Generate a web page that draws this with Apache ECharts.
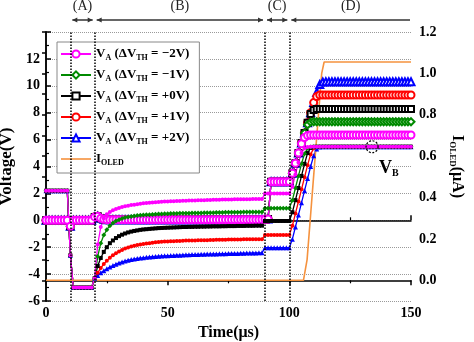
<!DOCTYPE html>
<html><head><meta charset="utf-8">
<script src="https://cdn.jsdelivr.net/npm/echarts@6/dist/echarts.min.js"></script>
<style>html,body{margin:0;padding:0;background:#fff}#c{width:474px;height:342px}</style>
</head><body><div id="c"></div>
<script>
// ---------------- DATA ----------------
const time = [0,1.25,2.5,3.75,5,6.25,7.5,8.75,10,11.25,
12.5,13.75,15,16.25,17.5,18.75,20,21.25,22.5,23.75,
25,26.25,27.5,28.75,30,31.25,32.5,33.75,35,36.25,
37.5,38.75,40,41.25,42.5,43.75,45,46.25,47.5,48.75,
50,51.25,52.5,53.75,55,56.25,57.5,58.75,60,61.25,
62.5,63.75,65,66.25,67.5,68.75,70,71.25,72.5,73.75,
75,76.25,77.5,78.75,80,81.25,82.5,83.75,85,86.25,
87.5,88.75,90,91.25,92.5,93.75,95,96.25,97.5,98.75,
100,101.25,102.5,103.75,105,106.25,107.5,108.75,110,111.25,
112.5,113.75,115,116.25,117.5,118.75,120,121.25,122.5,123.75,
125,126.25,127.5,128.75,130,131.25,132.5,133.75,135,136.25,
137.5,138.75,140,141.25,142.5,143.75,145,146.25,147.5,148.75,
150];

// V_A (hollow markers): phases A-C are shared by all dVth values
const vaShared = [0,0,0,0,0,0,0,0,-0.45,0,
0,0,0,0,0,0,0.25,0.3,0.15,0.08,
0.05,0.05,0.05,0.05,0.05,0.05,0.05,0.05,0.05,0.05,
0.05,0.05,0.05,0.05,0.05,0.05,0.05,0.05,0.05,0.05,
0.05,0.05,0.05,0.05,0.05,0.05,0.05,0.05,0.05,0.05,
0.05,0.05,0.05,0.05,0.05,0.05,0.05,0.05,0.05,0.05,
0.05,0.05,0.05,0.05,0.05,0.05,0.05,0.05,0.05,0.05,
0.05,0.06,0.08,0.1,2.87,2.87,2.87,2.87,2.87,2.87];
const vaM2D = [2.87,3.5,4.25,5.0,5.7,6.15,6.3,6.34,6.34,6.34,
6.34,6.34,6.34,6.34,6.34,6.34,6.34,6.34,6.34,6.34,
6.34,6.34,6.34,6.34,6.34,6.34,6.34,6.34,6.34,6.34,
6.34,6.34,6.34,6.34,6.34,6.34,6.34,6.34,6.34,6.34,
6.34];
const vaM1D = [2.87,3.5,4.25,5.0,5.75,6.5,7.1,7.3,7.33,7.33,
7.33,7.33,7.33,7.33,7.33,7.33,7.33,7.33,7.33,7.33,
7.33,7.33,7.33,7.33,7.33,7.33,7.33,7.33,7.33,7.33,
7.33,7.33,7.33,7.33,7.33,7.33,7.33,7.33,7.33,7.33,
7.33];
const vaP0D = [2.87,3.5,4.25,5.0,5.75,6.5,7.25,7.9,8.2,8.28,
8.28,8.28,8.28,8.28,8.28,8.28,8.28,8.28,8.28,8.28,
8.28,8.28,8.28,8.28,8.28,8.28,8.28,8.28,8.28,8.28,
8.28,8.28,8.28,8.28,8.28,8.28,8.28,8.28,8.28,8.28,
8.28];
const vaP1D = [2.87,3.5,4.25,5.0,5.75,6.5,7.25,8.0,8.75,9.2,
9.32,9.32,9.32,9.32,9.32,9.32,9.32,9.32,9.32,9.32,
9.32,9.32,9.32,9.32,9.32,9.32,9.32,9.32,9.32,9.32,
9.32,9.32,9.32,9.32,9.32,9.32,9.32,9.32,9.32,9.32,
9.32];
const vaP2D = [2.87,3.5,4.25,5.0,5.75,6.5,7.25,8.0,8.75,9.5,
10.1,10.28,10.3,10.3,10.3,10.3,10.3,10.3,10.3,10.3,
10.3,10.3,10.3,10.3,10.3,10.3,10.3,10.3,10.3,10.3,
10.3,10.3,10.3,10.3,10.3,10.3,10.3,10.3,10.3,10.3,
10.3];

// V_B (filled markers)
const vbStart = [2.2,2.2,2.2,2.2,2.2,2.2,2.2,2.2,-2.6,-5,
-5,-5,-5,-5,-5,-5,-4.3];
const vbTail = [5.47,5.47,5.47,5.47,5.47,5.47,5.47,5.47,5.47,5.47,
5.47,5.47,5.47,5.47,5.47,5.47,5.47,5.47,5.47,5.47,
5.47,5.47,5.47,5.47,5.47,5.47,5.47,5.47,5.47,5.47];
const vbM2 = [-1.8,-0.5,0.15,
0.45,0.62,0.74,0.84,0.92,0.99,1.04,1.09,1.13,1.16,
1.2,1.23,1.26,1.28,1.3,1.32,1.34,1.36,1.37,1.39,
1.4,1.41,1.42,1.43,1.44,1.45,1.46,1.47,1.48,1.48,
1.49,1.5,1.5,1.51,1.51,1.52,1.53,1.53,1.54,1.54,
1.55,1.55,1.56,1.56,1.56,1.57,1.57,1.57,1.58,1.58,
1.58,1.58,2.0,2.0,2.0,2.0,2.0,2.0,2.0,2.0,
2.0,2.5,3.4,4.3,5.0,5.35,5.45,5.47,5.47,5.47,
5.47];
const vbM1 = [-2.7,-1.7,-1.1,
-0.7,-0.4,-0.2,-0.05,0.05,0.13,0.2,0.25,0.29,0.32,
0.35,0.37,0.39,0.41,0.42,0.44,0.45,0.46,0.47,0.48,
0.49,0.5,0.5,0.51,0.52,0.52,0.53,0.53,0.54,0.54,
0.55,0.55,0.56,0.56,0.57,0.57,0.58,0.58,0.58,0.59,
0.59,0.6,0.6,0.6,0.6,0.61,0.61,0.61,0.62,0.62,
0.62,0.62,0.89,0.89,0.89,0.89,0.89,0.89,0.89,0.89,
0.89,1.5,2.4,3.3,4.2,4.95,5.35,5.45,5.47,5.47,
5.47];
const vbP0 = [-3.4,-2.8,-2.35,
-2.0,-1.7,-1.5,-1.32,-1.18,-1.07,-0.98,-0.9,-0.84,-0.79,
-0.75,-0.71,-0.68,-0.66,-0.64,-0.62,-0.6,-0.58,-0.57,-0.56,
-0.55,-0.54,-0.53,-0.52,-0.51,-0.5,-0.5,-0.49,-0.49,-0.48,
-0.48,-0.47,-0.47,-0.46,-0.46,-0.45,-0.45,-0.45,-0.44,-0.44,
-0.43,-0.43,-0.43,-0.42,-0.42,-0.42,-0.41,-0.41,-0.41,-0.4,
-0.4,-0.4,-0.05,-0.05,-0.05,-0.05,-0.05,-0.05,-0.05,-0.05,
-0.05,0.6,1.5,2.4,3.3,4.2,5.0,5.38,5.46,5.47,
5.47];
const vbP1 = [-3.9,-3.55,-3.25,
-3.0,-2.78,-2.6,-2.45,-2.32,-2.2,-2.1,-2.02,-1.95,-1.89,
-1.84,-1.8,-1.76,-1.73,-1.7,-1.67,-1.64,-1.62,-1.6,-1.58,
-1.57,-1.56,-1.55,-1.54,-1.53,-1.52,-1.51,-1.51,-1.5,-1.5,
-1.49,-1.49,-1.48,-1.48,-1.47,-1.46,-1.45,-1.45,-1.44,-1.44,
-1.43,-1.43,-1.42,-1.42,-1.42,-1.41,-1.41,-1.41,-1.4,-1.4,
-1.4,-1.4,-1.1,-1.1,-1.1,-1.1,-1.1,-1.1,-1.1,-1.1,
-1.1,-0.4,0.5,1.4,2.3,3.2,4.1,4.9,5.35,5.45,
5.47];
const vbP2 = [-4.1,-3.9,-3.75,
-3.6,-3.47,-3.36,-3.26,-3.17,-3.1,-3.03,-2.97,-2.92,-2.88,
-2.84,-2.81,-2.78,-2.75,-2.73,-2.71,-2.69,-2.67,-2.65,-2.64,
-2.63,-2.62,-2.61,-2.6,-2.59,-2.58,-2.57,-2.56,-2.55,-2.55,
-2.54,-2.53,-2.52,-2.51,-2.51,-2.5,-2.5,-2.49,-2.48,-2.48,
-2.47,-2.47,-2.46,-2.46,-2.45,-2.45,-2.44,-2.44,-2.43,-2.43,
-2.42,-2.42,-2.04,-2.04,-2.04,-2.04,-2.04,-2.04,-2.04,-2.04,
-2.04,-1.4,-0.5,0.4,1.3,2.2,3.1,4.0,4.8,5.3,
5.45];

// I_OLED (right axis, uA)
const ioledTime = [0,105.8,106.6,107.3,113.3,114.3,150];
const ioledValues = [0,0,0.005,0.1,1.0,1.055,1.055];

// phase markers
const phaseLabels = ['(A)','(B)','(C)','(D)'];
const phaseStart = [10,20,90,100];
const phaseEnd = [20,90,100,150];
const dividerTimes = [10,20,90,100];

const legendNames = ['VA-2','VA-1','VA0','VA+1','VA+2','IOLED'];
const legendTexts = {
  'VA-2':'V{s|A} (ΔV{s|TH} = −2V)',
  'VA-1':'V{s|A} (ΔV{s|TH} = −1V)',
  'VA0':'V{s|A} (ΔV{s|TH} = +0V)',
  'VA+1':'V{s|A} (ΔV{s|TH} = +1V)',
  'VA+2':'V{s|A} (ΔV{s|TH} = +2V)',
  'IOLED':'I{s|OLED}'
};

// ---------------- CHART ----------------
const FONT = '"Liberation Serif","DejaVu Serif",serif';
const C = {m:'#ff00ff', g:'#008a00', k:'#000000', r:'#ff0000', b:'#0000ff', o:'#f5923e'};
const toPairs = arr => time.map((t,i)=>[t, arr[i]]);

function lineSeries(name, color, symbol, size, arr, filled){
  return {
    name, type:'line', xAxisIndex:0, yAxisIndex:0,
    data: toPairs(arr), symbol, symbolSize:size, showSymbol:true,
    lineStyle:{color, width:1.3},
    itemStyle:{color, borderColor:color, borderWidth: filled?0:1.2},
    emphasis:{disabled:true}, silent:true, animation:false
  };
}

const series = [
  lineSeries('VA+2', C.b, 'emptyTriangle', 7, vaShared.concat(vaP2D)),
  lineSeries('VA+1', C.r, 'emptyCircle', 7, vaShared.concat(vaP1D)),
  lineSeries('VA0',  C.k, 'emptyRect', 6, vaShared.concat(vaP0D)),
  lineSeries('VA-1', C.g, 'emptyDiamond', 7, vaShared.concat(vaM1D)),
  lineSeries('VA-2', C.m, 'emptyCircle', 7, vaShared.concat(vaM2D)),
  lineSeries('VB+2', C.b, 'triangle', 5, vbStart.concat(vbP2, vbTail), true),
  lineSeries('VB+1', C.r, 'circle', 4, vbStart.concat(vbP1, vbTail), true),
  lineSeries('VB0',  C.k, 'rect', 4, vbStart.concat(vbP0, vbTail), true),
  lineSeries('VB-1', C.g, 'diamond', 5, vbStart.concat(vbM1, vbTail), true),
  lineSeries('VB-2', C.m, 'circle', 4, vbStart.concat(vbM2, vbTail), true),
  {
    name:'IOLED', type:'line', xAxisIndex:0, yAxisIndex:1,
    data: ioledTime.map((t,i)=>[t, ioledValues[i]]),
    symbol:'none', lineStyle:{color:C.o, width:1.6}, itemStyle:{color:C.o},
    silent:true, animation:false,
    markLine:{silent:true, symbol:['none','none'], label:{show:false}, animation:false,
      lineStyle:{color:'#000', type:'dotted', width:1.5},
      data: dividerTimes.map(x=>({xAxis:x}))}
  }
];

const axisLineStyle = {color:'#000', width:1.5};
const tickLabel = {fontFamily:FONT, fontWeight:'bold', fontSize:14, color:'#000'};
const richSub = {s:{fontSize:8, fontWeight:'bold', fontFamily:FONT, color:'#000', verticalAlign:'bottom', lineHeight:8}};

const chart = echarts.init(document.getElementById('c'), null, {renderer:'canvas'});
chart.setOption({
  animation:false,
  backgroundColor:'#fff',
  grid:{left:46, right:63, top:32, bottom:41, containLabel:false, outerBoundsMode:'none'},
  legend:{
    data: legendNames.map(n => n==='IOLED' ? {name:n, icon:'path://M0,0h30v1.6h-30z'} : n),
    orient:'vertical', left:57, top:42,
    itemWidth:30, itemHeight:9, itemGap:5,
    padding:[4,10,6,3],
    borderColor:'#888', borderWidth:1, backgroundColor:'#fff',
    selectedMode:false,
    formatter: n => legendTexts[n],
    textStyle:{fontFamily:FONT, fontWeight:'bold', fontSize:13, color:'#000', lineHeight:16, rich:richSub}
  },
  xAxis:[{
    type:'value', min:0, max:150, interval:50, position:'bottom',
    axisLine:{show:true, lineStyle:axisLineStyle},
    axisTick:{show:true, inside:true, length:5, lineStyle:{color:'#000', width:1.5}},
    minorTick:{show:true, splitNumber:2, length:3, lineStyle:{color:'#000', width:1.2}},
    axisLabel:Object.assign({margin:5}, tickLabel),
    splitLine:{show:false},
    name:'Time(μs)', nameLocation:'middle', nameGap:23,
    nameTextStyle:{fontFamily:FONT, fontWeight:'bold', fontSize:16, color:'#000'}
  },{
    type:'value', min:0, max:150, interval:50, position:'top',
    axisLine:{show:true, lineStyle:axisLineStyle},
    axisTick:{show:true, inside:true, length:5, lineStyle:{color:'#000', width:1.5}},
    minorTick:{show:true, splitNumber:2, length:3, lineStyle:{color:'#000', width:1.2}},
    axisLabel:{show:false}, splitLine:{show:false}
  }],
  yAxis:[{
    type:'value', min:-6, max:14, interval:2, position:'left',
    axisLine:{show:true, lineStyle:axisLineStyle},
    axisTick:{show:true, inside:true, length:5, lineStyle:{color:'#000', width:1.5}},
    minorTick:{show:true, splitNumber:2, length:3, lineStyle:{color:'#000', width:1.2}},
    axisLabel:Object.assign({margin:6, formatter:v => v===14 ? '' : String(v)}, tickLabel),
    splitLine:{show:true, lineStyle:{color:'#9a9a9a', type:'dotted', width:1}},
    name:'Voltage(V)', nameLocation:'middle', nameGap:26,
    nameTextStyle:{fontFamily:FONT, fontWeight:'bold', fontSize:17, color:'#000'}
  },{
    type:'value', min:-0.1, max:1.2, interval:0.1, position:'right',
    axisLine:{show:true, lineStyle:axisLineStyle},
    axisTick:{show:true, inside:true, length:4, lineStyle:{color:'#000', width:1.5}},
    axisLabel:Object.assign({margin:8, formatter:v => {const k=Math.round(v*10); return (k>=0 && k%2===0) ? (k/10).toFixed(1) : '';}}, tickLabel),
    splitLine:{show:false},
    name:'I{s|OLED}(μA)', nameLocation:'middle', nameRotate:-90, nameGap:37,
    nameTextStyle:{fontFamily:FONT, fontWeight:'bold', fontSize:16, color:'#000', lineHeight:18,
      rich:{s:{fontSize:9, fontWeight:'bold', fontFamily:FONT, color:'#000', verticalAlign:'bottom', lineHeight:9}}}
  }],
  series
});

// ------------- annotations computed from axes -------------
const gfx = [];
const arrowY = 20, head = 5, hw = 2.5;
phaseLabels.forEach((lab,i)=>{
  const x0 = chart.convertToPixel({xAxisIndex:0}, phaseStart[i]) + 2;
  const x1 = chart.convertToPixel({xAxisIndex:0}, phaseEnd[i]) - (i===3 ? 1 : 2);
  gfx.push({type:'line', shape:{x1:x0, y1:arrowY, x2:x1, y2:arrowY}, style:{stroke:'#333', lineWidth:1.5}, silent:true});
  gfx.push({type:'polygon', shape:{points:[[x0,arrowY],[x0+head,arrowY-hw],[x0+head,arrowY+hw]]}, style:{fill:'#333'}, silent:true});
  if (i!==3) gfx.push({type:'polygon', shape:{points:[[x1,arrowY],[x1-head,arrowY-hw],[x1-head,arrowY+hw]]}, style:{fill:'#333'}, silent:true});
  gfx.push({type:'text', x:(x0+x1)/2, y:6, style:{text:lab, font:'14px '+FONT, fill:'#222', align:'center', verticalAlign:'middle'}, silent:true});
});
const vb = chart.convertToPixel({xAxisIndex:0, yAxisIndex:0}, [134, 5.47]);
gfx.push({type:'circle', shape:{cx:vb[0], cy:vb[1], r:6}, style:{fill:'none', stroke:'#000', lineWidth:1.2, lineDash:[2,1.5]}, silent:true, z:100});
gfx.push({type:'text', x:vb[0]+7, y:vb[1]+22, style:{text:'V{s|B}', font:'bold 18px '+FONT, fill:'#000', verticalAlign:'middle', lineHeight:20,
  rich:{s:{font:'bold 10px '+FONT, fill:'#000', verticalAlign:'bottom', lineHeight:10}}}, silent:true, z:100});
chart.setOption({graphic:gfx});
</script>
</body></html>
